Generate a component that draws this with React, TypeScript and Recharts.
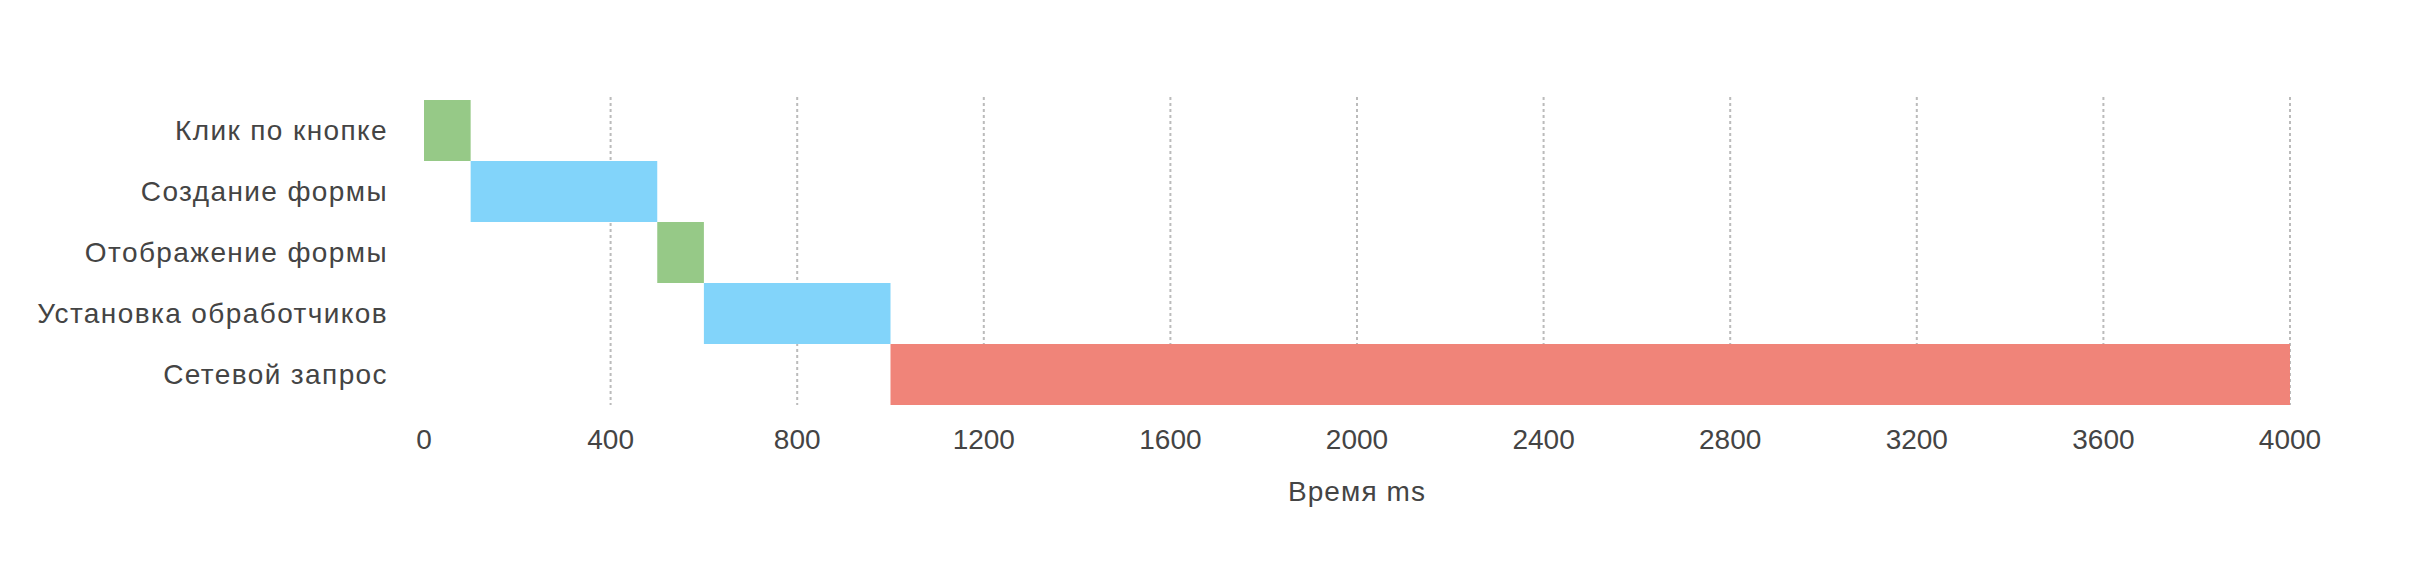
import { BarChart, Bar, Cell, XAxis, YAxis, CartesianGrid } from "recharts";

const stages = [
  "Клик по кнопке",
  "Создание формы",
  "Отображение формы",
  "Установка обработчиков",
  "Сетевой запрос",
];
const startMs = [0, 100, 500, 600, 1000];
const endMs = [100, 500, 600, 1000, 4000];
const stageColors = ["#96c987", "#82d4fa", "#96c987", "#82d4fa", "#f08479"];
const timeTicks = [0, 400, 800, 1200, 1600, 2000, 2400, 2800, 3200, 3600, 4000];

const data = stages.map((name, i) => ({
  name,
  start: startMs[i],
  duration: endMs[i] - startMs[i],
}));

const textStyle = { fontSize: 28, fill: "#444" };
// cyrillic in the original font runs a bit wider
const wideText = { ...textStyle, letterSpacing: 1.4 };

// grid lines everywhere except at 0
const gridPoints = ({ xAxis, offset }: any) => {
  const s = xAxis?.scale;
  const f =
    typeof s === "function"
      ? (v: number) => s(v)
      : s && typeof s.map === "function"
      ? (v: number) => s.map(v)
      : (v: number) => offset.left + (offset.width * v) / 4000;
  return timeTicks.slice(1).map((v) => f(v));
};

export default function App() {
  return (
    <div
      style={{
        position: "absolute",
        left: 0,
        top: 0,
        fontFamily: "'Liberation Sans', Arial, sans-serif",
      }}
    >
      <BarChart
        width={2426}
        height={576}
        data={data}
        layout="vertical"
        barCategoryGap={0}
        margin={{ top: 97, right: 136, bottom: 31, left: 0 }}
      >
        <CartesianGrid
          horizontal={false}
          stroke="#bbb"
          strokeWidth={2}
          strokeDasharray="3 3"
          verticalCoordinatesGenerator={gridPoints}
        />
        <XAxis
          type="number"
          domain={[0, 4000]}
          ticks={timeTicks}
          allowDataOverflow
          height={140}
          axisLine={false}
          tickLine={false}
          tickSize={0}
          tickMargin={24}
          tick={textStyle}
          label={{
            value: "Время ms",
            position: "insideBottom",
            offset: 44,
            style: { ...textStyle, letterSpacing: 1.1 },
          }}
        />
        <YAxis
          type="category"
          dataKey="name"
          width={424}
          padding={{ top: 3, bottom: 0 }}
          axisLine={false}
          tickLine={false}
          tickSize={0}
          tickMargin={36}
          tick={wideText}
        />
        <Bar dataKey="start" stackId="t" fill="transparent" isAnimationActive={false} />
        <Bar dataKey="duration" stackId="t" isAnimationActive={false}>
          {data.map((d, i) => (
            <Cell key={d.name} fill={stageColors[i]} />
          ))}
        </Bar>
      </BarChart>
    </div>
  );
}
